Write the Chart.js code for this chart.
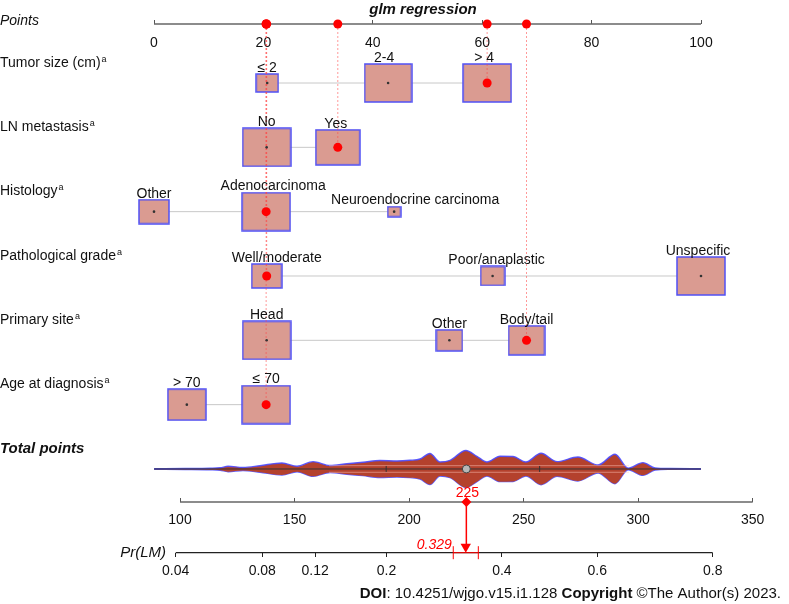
<!DOCTYPE html>
<html>
<head>
<meta charset="utf-8">
<title>Nomogram - glm regression</title>
<script src="https://cdn.jsdelivr.net/npm/chart.js@4.4.1/dist/chart.umd.min.js"></script>
<style>
    body { margin: 0; background: #fff; }
    #wrap { position: relative; width: 789px; height: 604px; }
</style>
</head>
<body>

<div id="wrap"><canvas id="nomo" width="789" height="604"></canvas></div>

<script>

/* DATA */
const titleText = "glm regression";
const variables = ["Tumor size (cm)", "LN metastasis", "Histology",
                   "Pathological grade", "Primary site", "Age at diagnosis"];

const tumorLabels = ["≤ 2", "2-4", "> 4"];
const tumorPoints = [20.7, 42.8, 60.9];
const tumorShare  = [10, 44, 46];

const lnLabels = ["No", "Yes"];
const lnPoints = [20.6, 33.6];
const lnShare  = [54, 46];

const histLabels = ["Other", "Adenocarcinoma", "Neuroendocrine carcinoma"];
const histPoints = [0, 20.5, 43.9];
const histShare  = [27, 68, 5];

const gradeLabels = ["Well/moderate", "Poor/anaplastic", "Unspecific"];
const gradePoints = [20.6, 61.9, 100];
const gradeShare  = [24, 15, 61];

const siteLabels = ["Head", "Other", "Body/tail"];
const sitePoints = [20.6, 54.0, 68.1];
const siteShare  = [54, 16, 30];

const ageLabels = ["> 70", "≤ 70"];
const agePoints = [6.0, 20.5];
const ageShare  = [39, 61];

// category of the plotted patient, per row
const picked = [2, 1, 1, 0, 2, 1];

const pointsTicks = [0, 20, 40, 60, 80, 100];
const totalTicks  = [100, 150, 200, 250, 300, 350];
const probTicks   = [0.04, 0.08, 0.12, 0.2, 0.4, 0.6, 0.8];

// distribution of total points (relative density, peak = 100)
const densityTotals = [88.7, 102.2, 113.1, 117.5, 121.0, 127.5, 134.9, 144.5, 151.1, 158.1,
                       165.5, 172.9, 179.9, 187.3, 194.7, 200.4, 204.8, 209.1, 213.5, 217.9,
                       224.8, 229.6, 234.0, 239.7, 245.4, 251.0, 257.6, 264.6, 273.7, 282.5,
                       289.9, 295.6, 302.1, 307.4, 313.9, 327.4];
const densityValues = [1.6, 2.7, 4.3, 6.5, 14.6, 8.1, 17.8, 32.4, 14.6, 39.5,
                       18.9, 28.6, 36.2, 45.9, 43.2, 47.0, 54.1, 83.8, 37.8, 47.0,
                       100, 68.6, 37.8, 68.6, 67.6, 37.8, 84.9, 39.5, 64.9, 21.6,
                       79.5, 4.3, 34.1, 5.4, 2.2, 1.6];
const densityQuartiles = [190, 257];
const densityBand = [165, 296];

const patientTotal = 225;
const patientProb = 0.329;
const probCI = [0.306, 0.353];

/* LAYOUT */
const W = 789, H = 604;
const ROW0 = 83, ROW_STEP = 64.33;
const BOX_MAX_W = 48, BOX_RATIO = 0.8;
const DENS_PX = 18.5;
const labelNudge = [[0, -4, -3], [0, -2], [0, 7, 21], [10, 4, -3], [0, 0, 0], [0, 0]];

const toRow = px => (px - ROW0) / ROW_STEP;
const logit = p => Math.log(p / (1 - p));

// min/max that put value v0 at pixel px0 and v1 at pixel px1
function fitRange(px0, v0, px1, v1, len) {
    const k = (v1 - v0) / (px1 - px0);
    const a = v0 - px0 * k, b = v0 + (len - px0) * k;
    return { min: Math.min(a, b), max: Math.max(a, b) };
}

const AX_PTS = toRow(24), AX_TOT = toRow(502), AX_PR = toRow(552.7);
const ptsRange  = fitRange(154, 0, 701, 100, W);
const totRange  = fitRange(180, 100, 752.7, 350, W);
const prRange   = fitRange(175.7, logit(0.04), 712.7, logit(0.8), W);
const rowRange  = fitRange(ROW0, 0, ROW0 + ROW_STEP, 1, H);
const densRange = fitRange(ROW0 + 6 * ROW_STEP, 0, ROW0 + 6 * ROW_STEP - DENS_PX, 100, H);

const rows = [
    { labels: tumorLabels, points: tumorPoints, share: tumorShare },
    { labels: lnLabels,    points: lnPoints,    share: lnShare },
    { labels: histLabels,  points: histPoints,  share: histShare },
    { labels: gradeLabels, points: gradePoints, share: gradeShare },
    { labels: siteLabels,  points: sitePoints,  share: siteShare },
    { labels: ageLabels,   points: agePoints,   share: ageShare }
];

function boxWidth(row, j) {
    return BOX_MAX_W * Math.sqrt(row.share[j] / Math.max(...row.share));
}

function boxCanvas(w, h) {
    const c = document.createElement("canvas");
    c.width = Math.round(w) + 2;
    c.height = Math.round(h) + 2;
    const g = c.getContext("2d");
    g.fillStyle = "#da9b91";
    g.fillRect(1, 1, c.width - 2, c.height - 2);
    g.strokeStyle = "#5050f5";
    g.lineWidth = 1.5;
    g.strokeRect(1, 1, c.width - 2, c.height - 2);
    return c;
}

/* DATASETS */
const datasets = [];

function lineSet(xAxisID, data, color, width, order, extra) {
    return Object.assign({
        xAxisID, yAxisID: "y", data, showLine: true, borderColor: color,
        borderWidth: width, pointRadius: 0, order
    }, extra || {});
}

// axis lines
datasets.push(lineSet("pts", [{ x: pointsTicks[0], y: AX_PTS }, { x: pointsTicks[pointsTicks.length - 1], y: AX_PTS }], "#666", 1.3, 9));
datasets.push(lineSet("tot", [{ x: totalTicks[0], y: AX_TOT }, { x: totalTicks[totalTicks.length - 1], y: AX_TOT }], "#666", 1.3, 9));
datasets.push(lineSet("pr", [{ x: logit(probTicks[0]), y: AX_PR }, { x: logit(probTicks[probTicks.length - 1]), y: AX_PR }], "#222", 1.3, 9));

// row connectors
rows.forEach((r, i) => {
    datasets.push(lineSet("pts",
        [{ x: Math.min(...r.points), y: i }, { x: Math.max(...r.points), y: i }],
        "#c8c8c8", 1, 9));
});

// boxes
const boxData = [], boxStyles = [];
rows.forEach((r, i) => r.points.forEach((p, j) => {
    const w = boxWidth(r, j);
    boxData.push({ x: p, y: i });
    boxStyles.push(boxCanvas(w, w * BOX_RATIO));
}));
datasets.push({ xAxisID: "pts", yAxisID: "y", data: boxData, pointStyle: boxStyles,
                pointRadius: 3, order: 8 });

// dashed guides from the points axis to the picked categories
rows.forEach((r, i) => {
    const p = r.points[picked[i]];
    datasets.push(lineSet("pts", [{ x: p, y: AX_PTS }, { x: p, y: i }],
        "rgba(255,70,70,0.55)", 1, 7, { borderDash: [2, 2] }));
});

// small centre dots and picked red dots
const smallDots = [], redDots = [], axisDots = [];
rows.forEach((r, i) => r.points.forEach((p, j) => {
    if (j === picked[i]) { redDots.push({ x: p, y: i }); axisDots.push({ x: p, y: AX_PTS }); }
    else smallDots.push({ x: p, y: i });
}));
datasets.push({ xAxisID: "pts", yAxisID: "y", data: smallDots, pointRadius: 1.3,
                backgroundColor: "#333", borderWidth: 0, order: 4 });
datasets.push({ xAxisID: "pts", yAxisID: "y", data: redDots.concat(axisDots), pointRadius: 4.5,
                backgroundColor: "#ff0000", borderWidth: 0, order: 3 });

// density of total points
datasets.push({ xAxisID: "tot", yAxisID: "yd", showLine: true, order: 9,
    data: densityTotals.map((t, k) => ({ x: t, y: densityValues[k] })),
    fill: "+1", backgroundColor: "#b4412d", borderColor: "rgba(75,75,255,0.9)",
    borderWidth: 1.4, pointRadius: 0, cubicInterpolationMode: "monotone" });
datasets.push({ xAxisID: "tot", yAxisID: "yd", showLine: true, order: 9,
    data: densityTotals.map((t, k) => ({ x: t, y: -densityValues[k] })),
    borderColor: "rgba(75,75,255,0.9)", borderWidth: 1.4, pointRadius: 0,
    cubicInterpolationMode: "monotone" });
const bandOffset = 3.3 / DENS_PX * 100;
[bandOffset, -bandOffset].forEach(o => datasets.push({
    xAxisID: "tot", yAxisID: "yd", showLine: true, order: 6,
    data: [{ x: densityBand[0], y: o }, { x: densityBand[1], y: o }],
    borderColor: "rgba(255,200,190,0.5)", borderWidth: 1, pointRadius: 0 }));
datasets.push({ xAxisID: "tot", yAxisID: "yd", showLine: true, order: 6,
    data: [{ x: densityTotals[0], y: 0 }, { x: densityTotals[densityTotals.length - 1], y: 0 }],
    borderColor: "#333", borderWidth: 1, pointRadius: 0 });
datasets.push({ xAxisID: "tot", yAxisID: "yd", order: 5,
    data: densityQuartiles.map(q => ({ x: q, y: 0 })),
    pointStyle: "line", rotation: 90, pointRadius: 3, borderColor: "#333", borderWidth: 1 });
datasets.push({ xAxisID: "tot", yAxisID: "yd", order: 5,
    data: [{ x: patientTotal, y: 0 }], pointRadius: 4,
    backgroundColor: "#b8b8b8", borderColor: "#444", borderWidth: 1 });

// patient total -> probability
datasets.push(lineSet("tot", [{ x: patientTotal, y: AX_TOT }, { x: patientTotal, y: toRow(544) }],
    "#ff0000", 1.5, 4));
datasets.push({ xAxisID: "tot", yAxisID: "y", order: 3, data: [{ x: patientTotal, y: AX_TOT }],
    pointStyle: "rectRot", pointRadius: 5, backgroundColor: "#ff0000", borderWidth: 0 });
datasets.push({ xAxisID: "pr", yAxisID: "y", order: 3, data: [{ x: logit(patientProb), y: toRow(546.7) }],
    pointStyle: "triangle", rotation: 180, pointRadius: 6, backgroundColor: "#ff0000", borderWidth: 0 });
datasets.push(lineSet("pr", probCI.map(p => ({ x: logit(p), y: AX_PR })), "#ff0000", 1, 4,
    { pointStyle: "line", rotation: 90, pointRadius: 6.5, pointBorderColor: "#ff0000", pointBorderWidth: 1 }));

/* SCALES */
function axisX(range, row, values, labelFn, tickLen, pad, color) {
    return {
        type: "linear", axis: "x", min: range.min, max: range.max,
        position: { y: row },
        afterBuildTicks: s => { s.ticks = values.map(v => ({ value: v })); },
        border: { display: false },
        grid: { drawOnChartArea: false, drawTicks: true, tickLength: tickLen, color: color, lineWidth: 1 },
        ticks: { autoSkip: false, maxRotation: 0, padding: pad, color: "#111",
                 font: { size: 14 }, callback: labelFn }
    };
}

/* TEXT */
const textPlugin = {
    id: "nomoText",
    afterDatasetsDraw(chart) {
        const { ctx, scales } = chart;
        const xs = scales.pts, ys = scales.y;
        const fam = "'Liberation Sans', Arial, sans-serif";
        ctx.save();
        ctx.fillStyle = "#111";
        ctx.textBaseline = "alphabetic";

        ctx.font = "bold italic 15px " + fam;
        ctx.textAlign = "center";
        ctx.fillText(titleText, 423, 14);

        ctx.textAlign = "left";
        ctx.font = "italic 14px " + fam;
        ctx.fillText("Points", 0, 25);

        variables.forEach((v, i) => {
            const base = ys.getPixelForValue(i) - 16.3;
            ctx.font = "14px " + fam;
            ctx.fillText(v, 0, base);
            const w = ctx.measureText(v).width;
            ctx.font = "9px " + fam;
            ctx.fillText("a", w + 1, base - 5);
        });

        ctx.font = "bold italic 15px " + fam;
        ctx.fillText("Total points", 0, ys.getPixelForValue(6) - 16.3);

        // category labels above the boxes
        ctx.font = "14px " + fam;
        ctx.textAlign = "center";
        rows.forEach((r, i) => r.labels.forEach((lab, j) => {
            const h = boxWidth(r, j) * BOX_RATIO;
            ctx.fillText(lab, xs.getPixelForValue(r.points[j]) + labelNudge[i][j],
                         ys.getPixelForValue(i) - h / 2 - 2);
        }));

        // patient values
        ctx.fillStyle = "#ff0000";
        ctx.fillText(String(patientTotal), scales.tot.getPixelForValue(patientTotal) + 1,
                     ys.getPixelForValue(AX_TOT) - 5.5);
        ctx.font = "italic 14px " + fam;
        ctx.textAlign = "right";
        ctx.fillText(patientProb.toFixed(3), scales.pr.getPixelForValue(logit(patientProb)) - 14,
                     ys.getPixelForValue(AX_PR) - 3.7);

        ctx.fillStyle = "#111";
        ctx.font = "italic 15px " + fam;
        ctx.fillText("Pr(LM)", 166, 557);

        // source line
        const parts = [["DOI", true], [": 10.4251/wjgo.v15.i1.128 ", false],
                       ["Copyright", true], [" ©The Author(s) 2023.", false]];
        let total = 0;
        parts.forEach(p => {
            ctx.font = (p[1] ? "bold " : "") + "15px " + fam;
            total += ctx.measureText(p[0]).width;
        });
        let x0 = 781 - total;
        ctx.textAlign = "left";
        parts.forEach(p => {
            ctx.font = (p[1] ? "bold " : "") + "15px " + fam;
            ctx.fillText(p[0], x0, 598);
            x0 += ctx.measureText(p[0]).width;
        });
        ctx.restore();
    }
};

Chart.defaults.font.family = "'Liberation Sans', Arial, sans-serif";
Chart.defaults.font.size = 14;

new Chart(document.getElementById("nomo"), {
    type: "scatter",
    data: { datasets },
    options: {
        responsive: false,
        animation: false,
        events: [],
        layout: { padding: 0, autoPadding: false },
        plugins: { legend: { display: false }, tooltip: { enabled: false } },
        scales: {
            y:  { type: "linear", axis: "y", reverse: true, min: rowRange.min, max: rowRange.max, display: false },
            yd: { type: "linear", axis: "y", min: densRange.min, max: densRange.max, display: false },
            pts: axisX(ptsRange, AX_PTS, pointsTicks, v => String(v), -4, 14.3, "#555"),
            tot: axisX(totRange, AX_TOT, totalTicks, v => String(v), -4, 13.8, "#555"),
            pr:  axisX(prRange, AX_PR, probTicks.map(logit), (v, i) => String(probTicks[i]), 4, 5.6, "#222")
        }
    },
    plugins: [textPlugin]
});

</script>

</body>
</html>
